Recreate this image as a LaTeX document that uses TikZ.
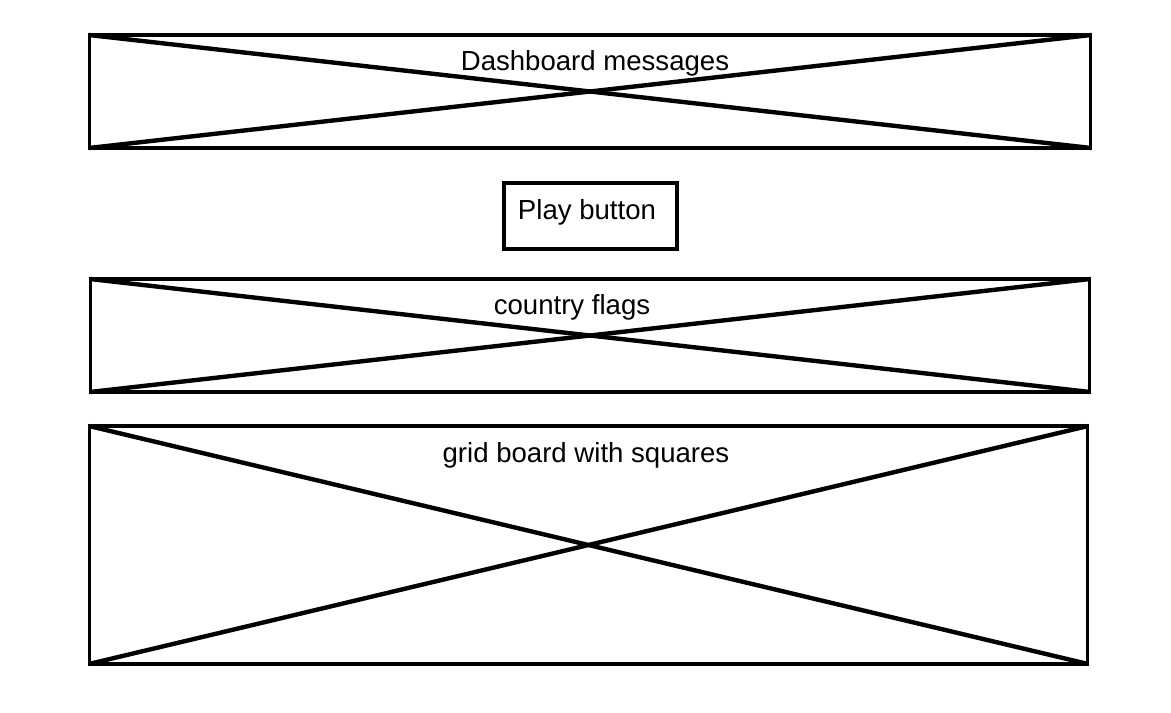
\documentclass[tikz,border=0pt]{standalone}
\usepackage{fontspec}
\setmainfont{Liberation Sans}
\begin{document}
\begin{tikzpicture}[x=0.02cm, y=-0.02cm,
    wireframe/.style={draw, line width=1.8pt, inner sep=0pt, outer sep=0pt},
    crossline/.style={line width=2.5pt},
    caption/.style={font=\fontsize{15.7}{18}\selectfont, inner sep=0pt}]
    \useasboundingbox (0,0) rectangle (1171,713);
    % placeholder boxes
    \node[wireframe, minimum width=20.04cm, minimum height=2.26cm] (dash) at (590,91.5) {};
    \node[wireframe, minimum width=3.46cm, minimum height=1.32cm] (play) at (590.5,216) {};
    \node[wireframe, minimum width=20cm, minimum height=2.26cm] (flags) at (590,335.5) {};
    \node[wireframe, minimum width=19.98cm, minimum height=4.76cm] (grid) at (588.5,545) {};
    % crosses
    \draw[crossline] (dash.north west)--(dash.south east);
    \draw[crossline] (dash.south west)--(dash.north east);
    \draw[crossline] (flags.north west)--(flags.south east);
    \draw[crossline] (flags.south west)--(flags.north east);
    \draw[crossline] (grid.north west)--(grid.south east);
    \draw[crossline] (grid.south west)--(grid.north east);
    % labels
    \node[caption] (dashlabel) at (595,63) {Dashboard messages};
    \node[caption] (playlabel) at (587,212) {Play button};
    \node[caption] (flagslabel) at (572,307) {country flags};
    \node[caption] (gridlabel) at (586,455) {grid board with squares};
\end{tikzpicture}
\end{document}
